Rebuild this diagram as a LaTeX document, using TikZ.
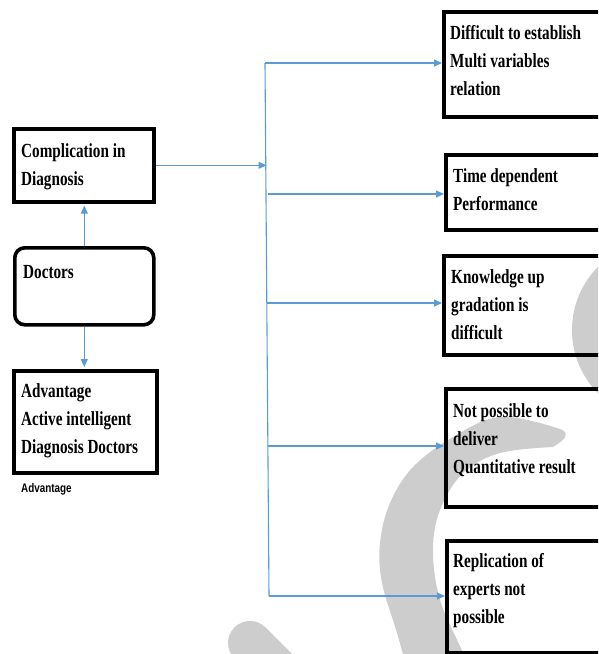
\documentclass[tikz,border=0pt]{standalone}
\usepackage{fontspec}
\newfontfamily\tnr[FakeStretch=0.76]{Liberation Serif}
\newfontfamily\arn[FakeStretch=0.79]{Liberation Sans}
\usetikzlibrary{arrows.meta}
\definecolor{conn}{RGB}{91,155,213}
\definecolor{wm}{RGB}{205,205,205}
\newcommand{\mlines}[1]{\begin{tabular}[t]{@{}l@{}}#1\end{tabular}}
\tikzset{
  box/.style={draw=black, line width=3.6pt, inner sep=0pt, anchor=north west},
  txt/.style={inner sep=0pt, anchor=base west, font={\tnr\bfseries\fontsize{20pt}{28pt}\selectfont}},
  conn/.style={draw=conn, line width=1.1pt},
  arr/.style={conn, -{Triangle[length=8pt,width=7pt]}}
}
\begin{document}
\begin{tikzpicture}[x=1pt,y=-1pt]
\path[use as bounding box] (0,0) rectangle (598,654);
\clip (0,0) rectangle (598,654);
% watermark
\fill[wm] (662,330) circle[radius=90pt];
\fill[wm] plot[smooth, tension=0.6] coordinates {(553,447) (565,437) (557,428) (500,417) (453,437) (413,467) (390,503) (380,543) (382,583) (397,633) (410,680)}
  -- plot[smooth, tension=0.6] coordinates {(472,680) (463,653) (440,600) (433,550) (440,510) (463,473) (500,453) (553,447)} -- cycle;
\draw[wm, line width=44pt, line cap=round] (250,643) -- (295,688);
% left boxes
\node[box, minimum width=140pt, minimum height=73pt] (l1) at (12,127) {};
\node[box, rounded corners=10pt, minimum width=139pt, minimum height=77pt] (l2) at (13,246) {};
\node[box, minimum width=143pt, minimum height=102pt] (l3) at (12,369) {};
% right boxes
\node[box, minimum width=200pt, minimum height=105pt] (r1) at (442,10) {};
\node[box, minimum width=200pt, minimum height=75pt] (r2) at (444,153) {};
\node[box, minimum width=200pt, minimum height=99pt] (r3) at (442,254) {};
\node[box, minimum width=200pt, minimum height=118pt] (r4) at (444,387) {};
\node[box, minimum width=200pt, minimum height=112pt] (r5) at (445,539) {};
% texts
\node[txt] (tl1) at (21,157) {\mlines{Complication in\\Diagnosis}};
\node[txt] (tl2) at (23,278) {Doctors};
\node[txt] (tl3) at (21,397) {\mlines{Advantage\\Active intelligent\\Diagnosis Doctors}};
\node[inner sep=0pt, anchor=base west, font={\arn\bfseries\fontsize{12.5pt}{14pt}\selectfont}] (adv) at (21,492) {Advantage};
\node[txt] (t1) at (450,39) {\mlines{Difficult to establish\\Multi variables\\relation}};
\node[txt] (t2) at (453,182) {\mlines{Time dependent\\Performance}};
\node[txt] (t3) at (451,283) {\mlines{Knowledge up\\gradation is\\difficult}};
\node[txt] (t4) at (453,417) {\mlines{Not possible to\\deliver\\Quantitative result}};
\node[txt] (t5) at (453,567) {\mlines{Replication of\\experts not\\possible}};
% trunk
\coordinate (j1) at (265,63);
\coordinate (jc) at (266.5,163);
\coordinate (j2) at (268,194);
\coordinate (j3) at (267,303);
\coordinate (j4) at (268,446);
\coordinate (j5) at (269,596);
\draw[conn] (j1) -- (j5);
% connectors
\draw[arr, shorten >=2pt] (l2.north) -- (l2.north |- l1.south);
\draw[arr, shorten >=2pt] (l2.south) -- (l2.south |- l3.north);
\draw[arr] (l1.east) -- (l1.east -| jc);
\draw[arr] (j1) -- (j1 -| r1.west);
\draw[arr] (j2) -- (j2 -| r2.west);
\draw[arr] (j3) -- (j3 -| r3.west);
\draw[arr] (j4) -- (j4 -| r4.west);
\draw[arr] (j5) -- (j5 -| r5.west);
\end{tikzpicture}
\end{document}
